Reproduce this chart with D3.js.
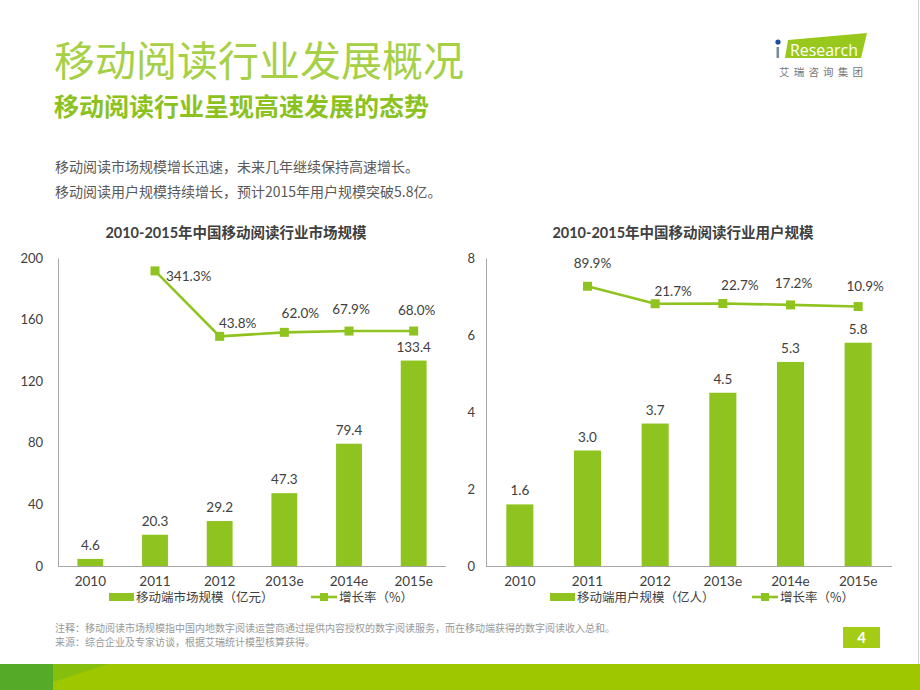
<!DOCTYPE html>
<html><head><meta charset="utf-8">
<script src="https://cdn.jsdelivr.net/npm/d3@7/dist/d3.min.js"></script>
<style>
body{margin:0;background:#fff;}
svg{display:block;font-family:"Lato","Noto Sans CJK SC",sans-serif;}
</style></head>
<body>
<svg id="c" width="920" height="690"></svg>
<script>
// ---- data ----
const categories = ["2010","2011","2012","2013e","2014e","2015e"];
const marketSize = [4.6, 20.3, 29.2, 47.3, 79.4, 133.4];
const marketGrowth = [null, 341.3, 43.8, 62.0, 67.9, 68.0];
const userSize = [1.6, 3.0, 3.7, 4.5, 5.3, 5.8];
const userGrowth = [null, 89.9, 21.7, 22.7, 17.2, 10.9];
const marketTicks = [0, 40, 80, 120, 160, 200];
const userTicks = [0, 2, 4, 6, 8];
const marketGrowthDomain = [-1000, 400];
const userGrowthDomain = [-1000, 200];

const titleText = "移动阅读行业发展概况";
const subtitleText = "移动阅读行业呈现高速发展的态势";
const bodyLines = ["移动阅读市场规模增长迅速，未来几年继续保持高速增长。",
                   "移动阅读用户规模持续增长，预计2015年用户规模突破5.8亿。"];
const chart1Title = "2010-2015年中国移动阅读行业市场规模";
const chart2Title = "2010-2015年中国移动阅读行业用户规模";
const legend1 = ["移动端市场规模（亿元）", "增长率（%）"];
const legend2 = ["移动端用户规模（亿人）", "增长率（%）"];
const notes = ["注释：移动阅读市场规模指中国内地数字阅读运营商通过提供内容授权的数字阅读服务，而在移动端获得的数字阅读收入总和。",
               "来源：综合企业及专家访谈，根据艾瑞统计模型核算获得。"];

// ---- layout (label nudges for growth labels, style only) ----
const nudge1 = [null,[11,5,"start"],[18,-13,"middle"],[16,-19,"middle"],[2,-22,"middle"],[3,-21,"middle"]];
const nudge2 = [null,[5,-23,"middle"],[18,-13,"middle"],[17,-19,"middle"],[3,-22,"middle"],[7,-21,"middle"]];

const GREEN = "#8fc31f";
const svg = d3.select("#c");

// header
svg.append("text").attr("x",54).attr("y",76).attr("font-size",41)
  .attr("font-family","'Noto Sans CJK SC'").attr("fill","#a6d045").text(titleText);
svg.append("text").attr("x",54).attr("y",116).attr("font-size",25).attr("font-weight","bold")
  .attr("font-family","'Noto Sans CJK SC'").attr("fill","#8cc21e").text(subtitleText);
bodyLines.forEach((t,i)=>svg.append("text").attr("x",55).attr("y",172+i*25).attr("font-size",14)
  .attr("fill","#595959").attr("font-family","'Noto Sans CJK SC'").text(t));

// logo
const logo = svg.append("g");
logo.append("polygon").attr("points","788,40 867,33 861,58 785,58").attr("fill","#99c81c");
logo.append("circle").attr("cx",778).attr("cy",42).attr("r",2.6).attr("fill","#1f4e9a");
logo.append("rect").attr("x",776.5).attr("y",47).attr("width",2.6).attr("height",11).attr("fill","#7a8a9a");
logo.append("text").attr("x",790).attr("y",56).attr("font-size",16.5).attr("fill","#fff")
  .attr("textLength",68).attr("lengthAdjust","spacingAndGlyphs")
  .attr("font-family","'Open Sans',sans-serif").text("Research");
logo.append("text").attr("x",779).attr("y",76).attr("font-size",10.5).attr("letter-spacing",4.2)
  .attr("fill","#777").attr("font-family","'Noto Sans CJK SC'").text("艾瑞咨询集团");
// right edge line
svg.append("line").attr("x1",918.5).attr("x2",918.5).attr("y1",0).attr("y2",664).attr("stroke","#d0d0d0");

function drawChart(opt){
  const g = svg.append("g");
  const x = d3.scaleBand().domain(categories).range([opt.x0,opt.x1]).paddingInner(0.6).paddingOuter(0.3);
  const y = d3.scaleLinear().domain([0,opt.ticks[opt.ticks.length-1]]).range([566,258]);
  const y2 = d3.scaleLinear().domain(opt.gdom).range([566,258]);
  // title
  g.append("text").attr("x",opt.tx).attr("y",238).attr("text-anchor","middle").attr("font-size",14.5)
    .attr("font-weight","bold").attr("fill","#404040").text(opt.title);
  // y axis
  const ya = d3.axisLeft(y).tickValues(opt.ticks).tickSize(0).tickPadding(opt.tp);
  const yg = g.append("g").attr("transform",`translate(${opt.x0},0)`).call(ya);
  yg.select(".domain").attr("stroke","#a6a6a6");
  yg.selectAll("text").attr("font-size",13).attr("fill","#404040").attr("font-family","Lato");
  // bars
  g.selectAll("rect.bar").data(opt.vals).join("rect").attr("class","bar")
    .attr("x",(d,i)=>x(categories[i])).attr("width",x.bandwidth())
    .attr("y",d=>y(d)).attr("height",d=>566-y(d)).attr("fill",GREEN);
  g.selectAll("text.bl").data(opt.vals).join("text").attr("class","bl")
    .attr("x",(d,i)=>x(categories[i])+x.bandwidth()/2).attr("y",d=>y(d)-9)
    .attr("text-anchor","middle").attr("font-size",13.5).attr("fill","#404040").text(d=>d.toFixed(1));
  // x axis
  const xa = d3.axisBottom(x).tickSize(0).tickPadding(10);
  const xg = g.append("g").attr("transform","translate(0,566)").call(xa);
  xg.select(".domain").attr("stroke","#a6a6a6").attr("d",`M${opt.x0},0.5H${opt.x1}`);
  xg.selectAll("text").attr("font-size",13.5).attr("fill","#404040").attr("font-family","Lato");
  // growth line
  const pts = opt.growth.map((v,i)=>({v,i})).filter(p=>p.v!=null);
  const cx = p=>x(categories[p.i])+x.bandwidth()/2;
  g.append("path").datum(pts).attr("fill","none").attr("stroke",GREEN).attr("stroke-width",2.6)
    .attr("d",d3.line().x(cx).y(p=>y2(p.v)));
  g.selectAll("rect.mk").data(pts).join("rect").attr("class","mk")
    .attr("x",p=>cx(p)-4.5).attr("y",p=>y2(p.v)-4.5).attr("width",9).attr("height",9).attr("fill",GREEN);
  g.selectAll("text.gl").data(pts).join("text").attr("class","gl")
    .attr("x",p=>cx(p)+opt.nudge[p.i][0]).attr("y",p=>y2(p.v)+opt.nudge[p.i][1]+5)
    .attr("text-anchor",p=>opt.nudge[p.i][2]).attr("font-size",13.5).attr("fill","#404040")
    .text(p=>p.v.toFixed(1)+"%");
  // legend
  const lg = g.append("g").attr("font-size",12.5).attr("fill","#404040");
  lg.append("rect").attr("x",opt.lx).attr("y",593).attr("width",25).attr("height",8).attr("fill",GREEN);
  lg.append("text").attr("x",opt.lx+27).attr("y",602).text(opt.legend[0]).attr("font-family","'Noto Sans CJK SC'");
  lg.append("line").attr("x1",opt.lx2).attr("x2",opt.lx2+26).attr("y1",597).attr("y2",597).attr("stroke",GREEN).attr("stroke-width",2.6);
  lg.append("rect").attr("x",opt.lx2+9).attr("y",593).attr("width",8).attr("height",8).attr("fill",GREEN);
  lg.append("text").attr("x",opt.lx2+28).attr("y",602).text(opt.legend[1]).attr("font-family","'Noto Sans CJK SC'");
}

drawChart({x0:58,x1:446,ticks:marketTicks,vals:marketSize,growth:marketGrowth,gdom:marketGrowthDomain,
  title:chart1Title,tx:236,tp:15,nudge:nudge1,legend:legend1,lx:109,lx2:311});
drawChart({x0:486,x1:892,ticks:userTicks,vals:userSize,growth:userGrowth,gdom:userGrowthDomain,
  title:chart2Title,tx:683,tp:11,nudge:nudge2,legend:legend2,lx:550,lx2:752});

// notes
notes.forEach((t,i)=>svg.append("text").attr("x",55).attr("y",632+i*13.5).attr("font-size",10)
  .attr("fill","#999").attr("font-family","'Noto Sans CJK SC'").text(t));
// page number
svg.append("rect").attr("x",843).attr("y",627).attr("width",37).attr("height",21).attr("fill","#a4cc14");
svg.append("text").attr("x",861.5).attr("y",643).attr("text-anchor","middle").attr("font-size",15)
  .attr("font-weight","bold").attr("fill","#fff").text("4");
// bottom band
svg.append("rect").attr("x",0).attr("y",664).attr("width",920).attr("height",26).attr("fill","#9ec700");
svg.append("polygon").attr("points","53,664 108,664 53,682").attr("fill","#7cbb14").attr("opacity",0.7);
svg.append("rect").attr("x",0).attr("y",664).attr("width",53).attr("height",26).attr("fill","#55aa28");
</script>
</body></html>
